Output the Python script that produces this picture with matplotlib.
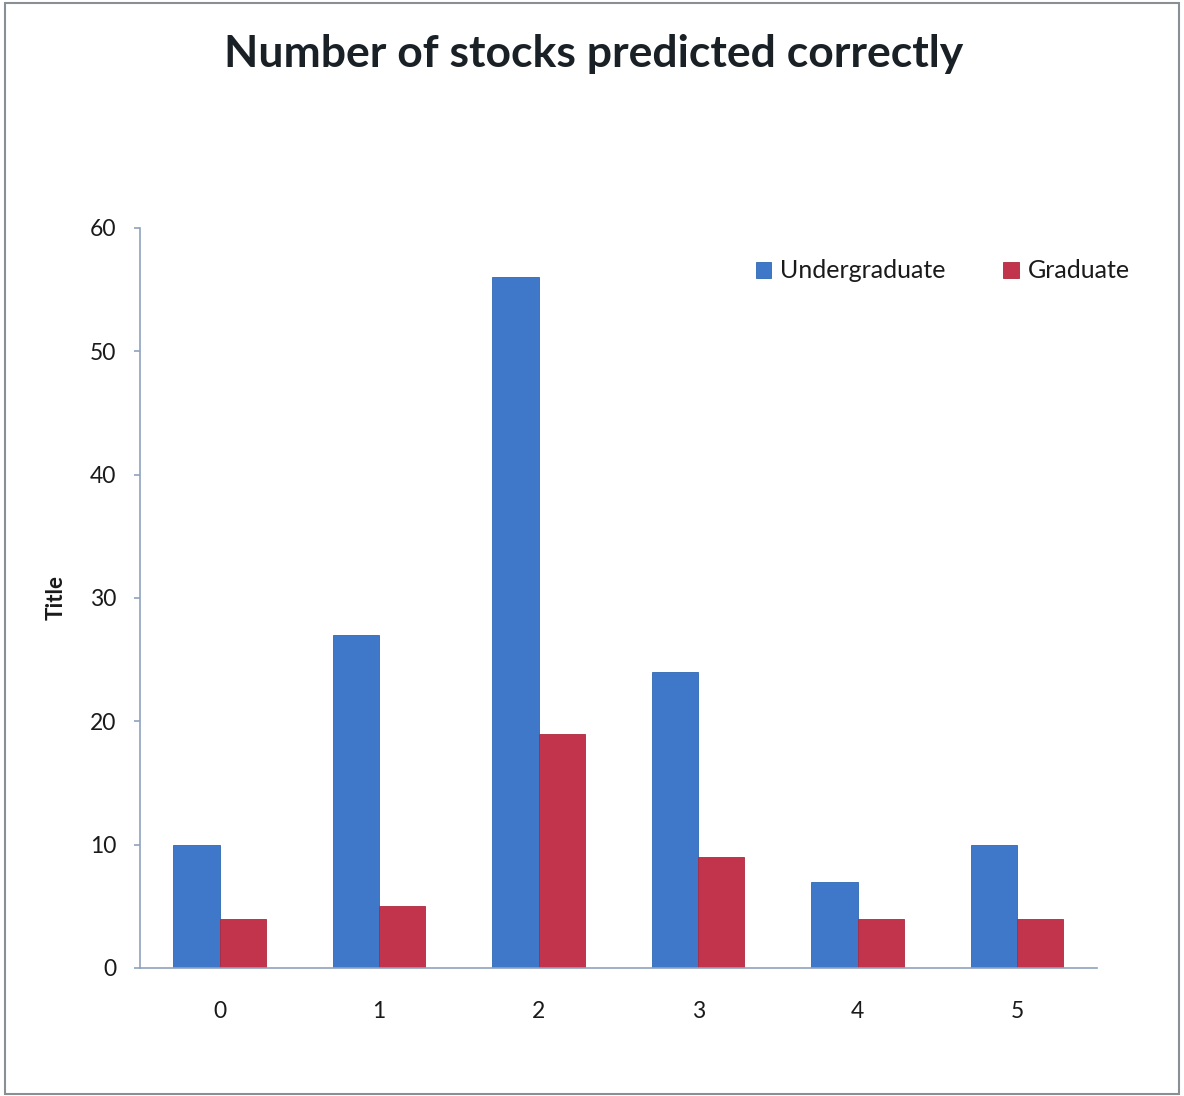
import matplotlib
matplotlib.use("Agg")
import matplotlib.pyplot as plt
from matplotlib.patches import Rectangle
import numpy as np

# Chart data
categories = ["0", "1", "2", "3", "4", "5"]
undergraduate = [10, 27, 56, 24, 7, 10]
graduate = [4, 5, 19, 9, 4, 4]
y_ticks = [0, 10, 20, 30, 40, 50, 60]

plt.rcParams["font.family"] = ["Lato", "DejaVu Sans"]

fig = plt.figure(figsize=(11.84, 10.96), dpi=100)
fig.patch.set_facecolor("white")

# Outer chart frame
fig.add_artist(Rectangle((0.004, 0.002), 0.992, 0.995, transform=fig.transFigure,
                         fill=False, edgecolor="#8a8f96", linewidth=1.5))

ax = fig.add_axes([0.1182, 0.1168, 0.8083, 0.6752])

x = np.arange(len(categories))
w = 0.29
blue = "#3f78c8"
red = "#c2344b"
ax.bar(x - w / 2, undergraduate, w, color=blue, edgecolor="#3068b3", linewidth=0.6,
       label="Undergraduate")
ax.bar(x + w / 2, graduate, w, color=red, edgecolor="#ad2a3e", linewidth=0.6,
       label="Graduate")

ax.set_xlim(-0.5, 5.5)
ax.set_ylim(0, 60)
ax.set_xticks(x)
ax.set_xticklabels(categories)
ax.set_yticks(y_ticks)

spine_color = "#8fa3bd"
for s in ["top", "right"]:
    ax.spines[s].set_visible(False)
for s in ["left", "bottom"]:
    ax.spines[s].set_color(spine_color)
    ax.spines[s].set_linewidth(1.2)

ax.tick_params(axis="y", direction="out", length=4, width=1.2, color=spine_color,
               labelsize=16.5, pad=13, labelcolor="#1a1a1a")
ax.tick_params(axis="x", length=0, labelsize=16.5, pad=24, labelcolor="#1a1a1a")

ax.set_ylabel("Title", fontsize=16, fontweight="bold", color="#1a1a1a")
ax.yaxis.set_label_coords(-0.0765, 0.5)

fig.text(0.501, 0.951, "Number of stocks predicted correctly", ha="center", va="center",
         fontsize=32, fontweight="bold", color="#1a2126")

leg = fig.legend(loc="center left", bbox_to_anchor=(0.6385, 1 - 271 / 1096), ncol=2,
                 frameon=False, fontsize=18, handlelength=0.62, handleheight=0.62,
                 handletextpad=0.35, columnspacing=2.3, borderpad=0, borderaxespad=0)
for t in leg.get_texts():
    t.set_color("#1a1a1a")

fig.savefig("out.png", dpi=100, facecolor="white")
